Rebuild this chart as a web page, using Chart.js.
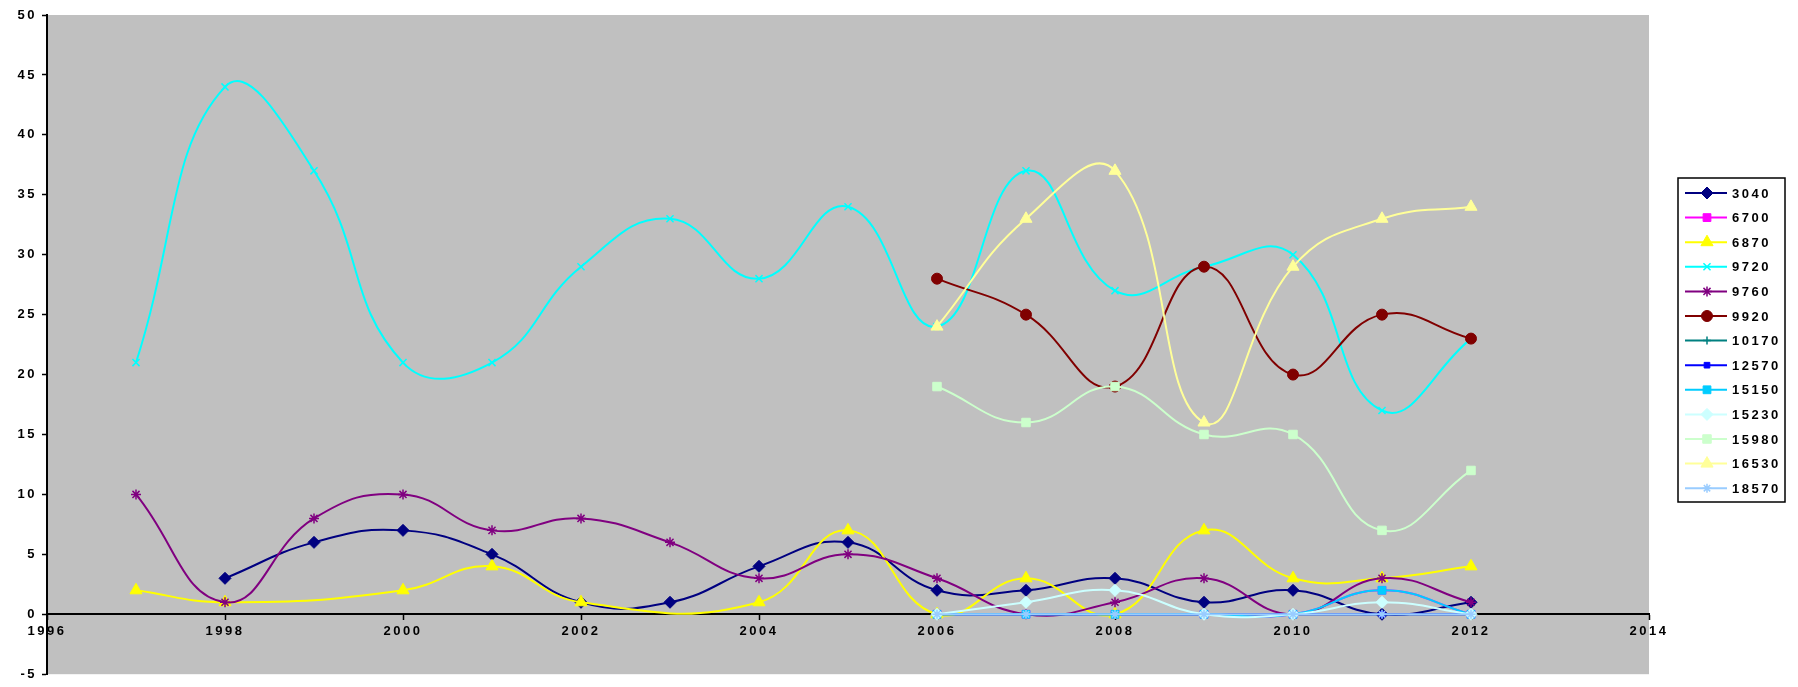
<!DOCTYPE html>
<html>
<head>
<meta charset="utf-8">
<script src="https://cdn.jsdelivr.net/npm/chart.js@4.4.1/dist/chart.umd.min.js"></script>
<style>
html, body { margin: 0; padding: 0; background: #fff; }
#wrap { width: 1798px; height: 687px; position: relative; }
</style>
</head>
<body>
<div id="wrap"><canvas id="chart"></canvas></div>
<script>
// data
const years = [1997, 1998, 1999, 2000, 2001, 2002, 2003, 2004, 2005, 2006, 2007, 2008, 2009, 2010, 2011, 2012];
const s3040  = [null, 3, 6, 7, 5, 1, 1, 4, 6, 2, 2, 3, 1, 2, 0, 1];
const s6700  = [null, null, null, null, null, null, null, null, null, 0, 0, 0, 0, 0, 2, 0];
const s6870  = [2, 1, null, 2, 4, 1, null, 1, 7, 0, 3, 0, 7, 3, 3, 4];
const s9720  = [21, 44, 37, 21, 21, 29, 33, 28, 34, 24, 37, 27, 29, 30, 17, 23];
const s9760  = [10, 1, 8, 10, 7, 8, 6, 3, 5, 3, 0, 1, 3, 0, 3, 1];
const s9920  = [null, null, null, null, null, null, null, null, null, 28, 25, 19, 29, 20, 25, 23];
const s10170 = [null, null, null, null, null, null, null, null, null, 0, 0, 0, 0, 0, 0, 0];
const s12570 = [null, null, null, null, null, null, null, null, null, 0, 0, 0, 0, 0, 0, 0];
const s15150 = [null, null, null, null, null, null, null, null, null, 0, 0, 0, 0, 0, 2, 0];
const s15230 = [null, null, null, null, null, null, null, null, null, 0, 1, 2, 0, 0, 1, 0];
const s15980 = [null, null, null, null, null, null, null, null, null, 19, 16, 19, 15, 15, 7, 12];
const s16530 = [null, null, null, null, null, null, null, null, null, 24, 33, 37, 16, 29, 33, 34];
const s18570 = [null, null, null, null, null, null, null, null, null, 0, 0, 0, 0, 0, 0, 0];

const seriesNames = ['3040', '6700', '6870', '9720', '9760', '9920', '10170', '12570', '15150', '15230', '15980', '16530', '18570'];
const seriesValues = [s3040, s6700, s6870, s9720, s9760, s9920, s10170, s12570, s15150, s15230, s15980, s16530, s18570];
const xTicks = { min: 1996, max: 2014, step: 2 };
const yTicks = { min: -5, max: 50, step: 5 };

const styles = [
    { color: '#000080', point: 'rectRot', radius: 6 },
    { color: '#FF00FF', point: 'rect', radius: 5.5 },
    { color: '#FFFF00', point: 'triangle', radius: 7 },
    { color: '#00FFFF', point: 'crossRot', radius: 5 },
    { color: '#800080', point: 'star', radius: 5 },
    { color: '#800000', point: 'circle', radius: 5.5 },
    { color: '#008080', point: 'cross', radius: 4 },
    { color: '#0000FF', point: 'rect', radius: 4 },
    { color: '#00CCFF', point: 'rect', radius: 5.5 },
    { color: '#CCFFFF', point: 'rectRot', radius: 6 },
    { color: '#CCFFCC', point: 'rect', radius: 6 },
    { color: '#FFFF99', point: 'triangle', radius: 7 },
    { color: '#99CCFF', point: 'star', radius: 4.5 }
];

function toPoints(values) {
    const pts = [];
    values.forEach((v, i) => {
        if (v !== null) pts.push({ x: years[i], y: v });
    });
    return pts;
}

const datasets = seriesNames.map((name, i) => {
    const st = styles[i];
    const hollow = st.point === 'crossRot' || st.point === 'star' || st.point === 'cross';
    return {
        label: name,
        data: toPoints(seriesValues[i]),
        borderColor: st.color,
        backgroundColor: st.color,
        borderWidth: 2,
        tension: 0.45,
        fill: false,
        pointStyle: st.point,
        pointRadius: st.radius,
        pointBorderWidth: hollow ? 1.5 : 1,
        pointBackgroundColor: st.color,
        pointBorderColor: st.color,
        order: seriesNames.length - i
    };
});

const plotBackground = {
    id: 'plotBackground',
    beforeDraw(chart) {
        const { ctx, chartArea: a } = chart;
        ctx.save();
        ctx.fillStyle = '#C0C0C0';
        ctx.fillRect(a.left, a.top, a.right - a.left, a.bottom - a.top);
        ctx.restore();
        ctx.letterSpacing = '2.5px';
    }
};

// Excel style legend: box with line + marker samples
const boxLegend = {
    id: 'boxLegend',
    afterDraw(chart) {
        const ctx = chart.ctx;
        const left = 1678, top = 178, width = 107, height = 324;
        const rowH = 24.6;
        ctx.save();
        ctx.fillStyle = '#fff';
        ctx.fillRect(left, top, width, height);
        ctx.strokeStyle = '#000';
        ctx.lineWidth = 1.5;
        ctx.strokeRect(left, top, width, height);
        ctx.font = 'bold 13px "Liberation Sans", Arial, sans-serif';
        ctx.letterSpacing = '2.5px';
        ctx.textBaseline = 'middle';
        chart.data.datasets.forEach((ds, i) => {
            const y = top + 15 + i * rowH;
            ctx.strokeStyle = ds.borderColor;
            ctx.lineWidth = 2;
            ctx.beginPath();
            ctx.moveTo(left + 7, y);
            ctx.lineTo(left + 49, y);
            ctx.stroke();
            ctx.fillStyle = ds.pointBackgroundColor;
            ctx.strokeStyle = ds.pointBorderColor;
            ctx.lineWidth = ds.pointBorderWidth;
            Chart.helpers.drawPoint(ctx, {
                pointStyle: ds.pointStyle,
                radius: ds.pointRadius,
                rotation: 0,
                borderWidth: ds.pointBorderWidth
            }, left + 29, y);
            ctx.fillStyle = '#000';
            ctx.fillText(ds.label, left + 54, y + 1);
        });
        ctx.restore();
    }
};

const tickFont = { family: '"Liberation Sans", Arial, sans-serif', size: 13, weight: 'bold' };

new Chart(document.getElementById('chart'), {
    type: 'line',
    data: { datasets: datasets },
    options: {
        responsive: true,
        maintainAspectRatio: false,
        animation: false,
        layout: { padding: { top: 15, right: 149, bottom: 11, left: 0 } },
        plugins: {
            legend: { display: false },
            tooltip: { enabled: false }
        },
        scales: {
            x: {
                type: 'linear',
                position: { y: 0 },
                min: xTicks.min,
                max: xTicks.max,
                grid: { drawOnChartArea: false, tickLength: 5, tickColor: '#000', tickWidth: 1.5 },
                border: { color: '#000', width: 2 },
                ticks: {
                    stepSize: xTicks.step,
                    color: '#000',
                    font: tickFont,
                    padding: 4,
                    maxRotation: 0,
                    callback: v => String(v)
                }
            },
            y: {
                type: 'linear',
                min: yTicks.min,
                max: yTicks.max,
                afterFit(scale) { scale.width = 47; },
                grid: { drawOnChartArea: false, tickLength: 5, tickColor: '#000', tickWidth: 1.5 },
                border: { color: '#000', width: 2 },
                ticks: {
                    stepSize: yTicks.step,
                    color: '#000',
                    font: tickFont,
                    padding: 5
                }
            }
        }
    },
    plugins: [plotBackground, boxLegend]
});
</script>
</body>
</html>
